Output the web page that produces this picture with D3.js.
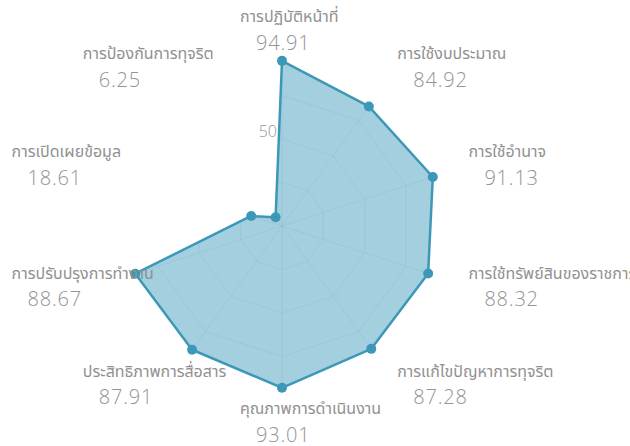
<!DOCTYPE html>
<html>
<head>
    <meta charset="utf-8" />
    <script src="https://d3js.org/d3.v7.min.js"></script>
    <title>Radar</title>
    <style type="text/css">
        body { margin: 0; background: #fff; }
        svg { display: block; }
        .lbl { font-family: "Noto Sans Thai", "Open Sans", "Noto Sans", sans-serif; fill: #919191; }
        .val { font-family: "Open Sans", "Noto Sans", sans-serif; fill: #949494; font-weight: 300; }
    </style>
</head>
<body>
    <div id="chart"></div>

    <script type="text/javascript">
        const categories = ["การปฏิบัติหน้าที่", "การใช้งบประมาณ", "การใช้อำนาจ", "การใช้ทรัพย์สินของราชการ",
            "การแก้ไขปัญหาการทุจริต", "คุณภาพการดำเนินงาน", "ประสิทธิภาพการสื่อสาร",
            "การปรับปรุงการทำงาน", "การเปิดเผยข้อมูล", "การป้องกันการทุจริต"];
        const values = [94.91, 84.92, 91.13, 88.32, 87.28, 93.01, 87.91, 88.67, 18.61, 6.25];
        const tickValues = [50];

        const width = 630, height = 446;
        const cx = 282, cy = 226, R = 174;

        const svg = d3.select("#chart").append("svg").attr("width", width).attr("height", height);

        const r = d3.scaleLinear().domain([0, 100]).range([0, R]);
        const angle = d3.scaleLinear().domain([0, categories.length]).range([0, 2 * Math.PI]);

        const pt = (i, v) => [cx + r(v) * Math.sin(angle(i)), cy - r(v) * Math.cos(angle(i))];

        var g = svg.append("g");
        const line = d3.line().curve(d3.curveLinearClosed);
        const area = line(values.map((v, i) => pt(i, v)));

        svg.append("defs").append("clipPath").attr("id", "inside")
            .append("path").attr("d", area);

        // polygon
        g.append("path")
            .attr("d", area)
            .attr("fill", "#a3cfdf")
            .attr("stroke", "none");

        // faint grid, only visible inside the fill
        const grid = g.append("g").attr("clip-path", "url(#inside)")
            .attr("stroke", "#2f7f9c").attr("stroke-opacity", 0.07).attr("fill", "none");
        categories.forEach((c, i) => {
            const p = pt(i, 100);
            grid.append("line").attr("x1", cx).attr("y1", cy).attr("x2", p[0]).attr("y2", p[1]);
        });
        [25, 50, 75].forEach(lv => {
            grid.append("path").attr("d", line(categories.map((c, i) => pt(i, lv))));
        });

        g.append("path")
            .attr("d", area)
            .attr("fill", "none")
            .attr("stroke", "#3d98b8")
            .attr("stroke-width", 2.5)
            .attr("stroke-linejoin", "round");

        g.selectAll("circle.dot").data(values).enter().append("circle")
            .attr("class", "dot")
            .attr("cx", (d, i) => pt(i, d)[0])
            .attr("cy", (d, i) => pt(i, d)[1])
            .attr("r", 5)
            .attr("fill", "#3d98b8");

        // tick label
        g.selectAll("text.tick").data(tickValues).enter().append("text")
            .attr("class", "val tick")
            .attr("x", cx - 5)
            .attr("y", d => cy - r(d) - 8)
            .attr("text-anchor", "end")
            .attr("dominant-baseline", "central")
            .attr("font-size", 16)
            .text(d => d);

        // axis labels
        const labelR = 196;
        categories.forEach((c, i) => {
            const s = Math.sin(angle(i));
            const ax = cx + labelR * s, ay = cy - labelR * Math.cos(angle(i));
            const off = s > 0.1 ? 0 : (s < -0.1 ? -84 : -42);
            g.append("text")
                .attr("class", "lbl")
                .attr("x", ax + off)
                .attr("y", ay - 13)
                .attr("dominant-baseline", "central")
                .attr("font-size", 16)
                .text(c);
            g.append("text")
                .attr("class", "val")
                .attr("x", ax + off + 16)
                .attr("y", ay + 12)
                .attr("dominant-baseline", "central")
                .attr("font-size", 20)
                .attr("letter-spacing", 0.8)
                .text(values[i].toFixed(2));
        });
    </script>
</body>
</html>
